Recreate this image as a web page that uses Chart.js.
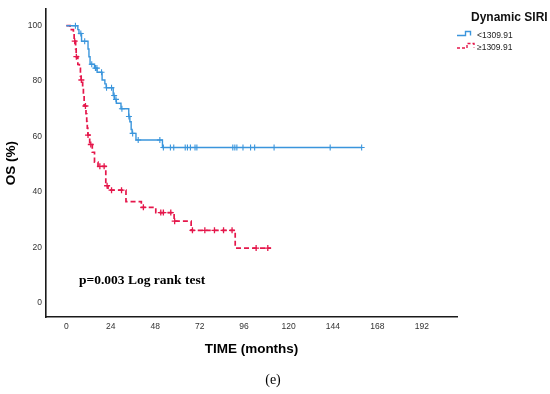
<!DOCTYPE html>
<html>
<head>
<meta charset="utf-8">
<script src="https://cdn.jsdelivr.net/npm/chart.js@4"></script>
<style>
html,body{margin:0;padding:0;background:#fff;}
#c{display:block;}
</style>
</head>
<body>
<canvas id="c" width="550" height="394"></canvas>
<script>
// ---- data ----
const seriesLabels = ['<1309.91', '\u22651309.91'];
const legendTitle = 'Dynamic SIRI';
const xTicks = [0, 24, 48, 72, 96, 120, 144, 168, 192];
const yTicks = [0, 20, 40, 60, 80, 100];

// low group (blue): step times (months) and survival (%)
const blueTimes = [0, 6.2, 6.8, 8.2, 11.7, 12.2, 12.8, 15.2, 16.6, 19.3, 20.8, 21.5, 25.3, 26.0, 27.0, 29.5, 33.7, 34.3, 35.0, 35.5, 37.6, 51.9, 159.5];
const blueSurv  = [100, 98.6, 97.2, 94.4, 91.6, 88.8, 86.1, 84.7, 83.2, 80.4, 79.0, 77.6, 74.8, 73.4, 72.0, 70.0, 67.2, 65.3, 62.5, 61.1, 58.7, 56.0, 56.0];
const blueCensor = [4.9, 7.8, 9.9, 13.7, 15.7, 16.5, 19.0, 21.7, 24.4, 25.8, 26.8, 30.0, 33.8, 35.8, 38.8, 50.5, 52.4, 56.2, 58.0, 64.2, 65.4, 67.0, 69.5, 70.5, 89.9, 91.0, 92.1, 95.4, 99.5, 101.7, 112.2, 142.5, 159.5];

// high group (red): step times (months) and survival (%)
const redTimes = [0, 2.0, 3.8, 4.2, 5.0, 5.3, 6.2, 7.0, 7.6, 8.0, 8.8, 9.2, 9.6, 10.6, 11.0, 11.3, 11.6, 12.6, 14.0, 15.2, 17.1, 21.3, 22.5, 32.2, 40.5, 48.3, 58.2, 67.4, 91.2, 110.6];
const redSurv  = [100, 98.6, 97.2, 94.4, 91.6, 88.8, 86.0, 84.6, 81.8, 80.4, 77.6, 74.8, 71.0, 68.2, 65.4, 63.0, 60.5, 57.1, 54.3, 50.7, 49.2, 42.2, 40.6, 36.5, 34.4, 32.5, 29.4, 26.1, 19.7, 19.7];
const redCensor = [4.5, 5.4, 8.1, 10.3, 11.7, 13.2, 18.1, 20.4, 22.0, 24.4, 29.8, 41.6, 51.0, 52.4, 56.4, 58.5, 68.1, 74.8, 80.0, 84.9, 89.5, 102.5, 108.8];

const BLUE = '#3a95dc';
const RED = '#e5174b';

function survAt(times, surv, t) {
  let s = surv[0];
  for (let i = 0; i < times.length; i++) { if (times[i] <= t) s = surv[i]; }
  return s;
}
const pts = (ts, ss) => ts.map((t, i) => ({x: t, y: ss[i]}));
const censorPts = (cs, ts, ss) => cs.map(t => ({x: t, y: survAt(ts, ss, t)}));

const SANS = 'Arial, "Liberation Sans", sans-serif';
const SERIF = '"Times New Roman", "Liberation Serif", serif';

const annotations = {
  id: 'annotations',
  afterDraw(chart) {
    const ctx = chart.ctx;
    ctx.save();
    // p-value text
    ctx.fillStyle = '#000';
    ctx.font = 'bold 13.5px ' + SERIF;
    ctx.textAlign = 'left';
    ctx.textBaseline = 'alphabetic';
    ctx.fillText('p=0.003 Log rank test', 79, 284);
    // panel label
    ctx.font = '14px ' + SERIF;
    ctx.textAlign = 'center';
    ctx.fillText('(e)', 273, 384);
    // legend title
    ctx.textAlign = 'left';
    ctx.font = 'bold 12px ' + SANS;
    ctx.fillStyle = '#111';
    ctx.fillText(legendTitle, 471, 21);
    // legend items
    ctx.lineWidth = 1.4;
    ctx.strokeStyle = BLUE;
    ctx.setLineDash([]);
    ctx.beginPath();
    ctx.moveTo(457, 35.5); ctx.lineTo(465.5, 35.5); ctx.lineTo(465.5, 31.5);
    ctx.lineTo(470.5, 31.5); ctx.lineTo(470.5, 35.5);
    ctx.stroke();
    ctx.strokeStyle = RED;
    ctx.setLineDash([3, 2]);
    ctx.beginPath();
    ctx.moveTo(457, 48); ctx.lineTo(467, 48); ctx.lineTo(467, 43.5);
    ctx.lineTo(474, 43.5); ctx.lineTo(474, 47.5);
    ctx.stroke();
    ctx.setLineDash([]);
    ctx.fillStyle = '#222';
    ctx.font = '8.5px ' + SANS;
    ctx.fillText(seriesLabels[0], 477, 37.5);
    ctx.fillText(seriesLabels[1], 477, 49.5);
    ctx.restore();
  }
};

new Chart(document.getElementById('c'), {
  type: 'line',
  data: {
    datasets: [
      { label: seriesLabels[0], data: pts(blueTimes, blueSurv), stepped: true, borderColor: BLUE, borderWidth: 1.4, pointRadius: 0, fill: false },
      { label: seriesLabels[1], data: pts(redTimes, redSurv), stepped: true, borderColor: RED, borderWidth: 1.7, borderDash: [5, 3], pointRadius: 0, fill: false },
      { label: seriesLabels[0] + ' censored', data: censorPts(blueCensor, blueTimes, blueSurv), showLine: false, pointStyle: 'cross', pointRadius: 3, pointBorderColor: BLUE, pointBorderWidth: 1.1 },
      { label: seriesLabels[1] + ' censored', data: censorPts(redCensor, redTimes, redSurv), showLine: false, pointStyle: 'cross', pointRadius: 3, pointBorderColor: RED, pointBorderWidth: 1.3 }
    ]
  },
  options: {
    responsive: false,
    animation: false,
    devicePixelRatio: 1,
    layout: { padding: { left: 0, right: 93, top: 6, bottom: 0 } },
    plugins: { legend: { display: false }, tooltip: { enabled: false }, title: { display: false } },
    scales: {
      x: {
        type: 'linear', min: -11, max: 211,
        afterFit(s) { s.height = 77; },
        afterBuildTicks(s) { s.ticks = xTicks.map(v => ({value: v})); },
        grid: { display: false, drawTicks: false },
        border: { display: true, color: '#1a1a1a', width: 1.6 },
        ticks: { padding: 5, color: '#333', font: { family: SANS, size: 8.5 }, maxRotation: 0, autoSkip: false },
        title: { display: true, text: 'TIME (months)', color: '#000', font: { family: SANS, size: 13.5, weight: 'bold' }, padding: { top: 0, bottom: 37 } }
      },
      y: {
        type: 'linear', min: -5.2, max: 106,
        afterFit(s) { s.width = 46; },
        afterBuildTicks(s) { s.ticks = yTicks.map(v => ({value: v})); },
        grid: { display: false, drawTicks: false },
        border: { display: true, color: '#1a1a1a', width: 1.6 },
        ticks: { padding: 4, color: '#333', font: { family: SANS, size: 8.5 }, autoSkip: false },
        title: { display: true, text: 'OS (%)', color: '#000', font: { family: SANS, size: 13.5, weight: 'bold' }, padding: { top: 3, bottom: 0 } }
      }
    }
  },
  plugins: [annotations]
});
</script>
</body>
</html>
